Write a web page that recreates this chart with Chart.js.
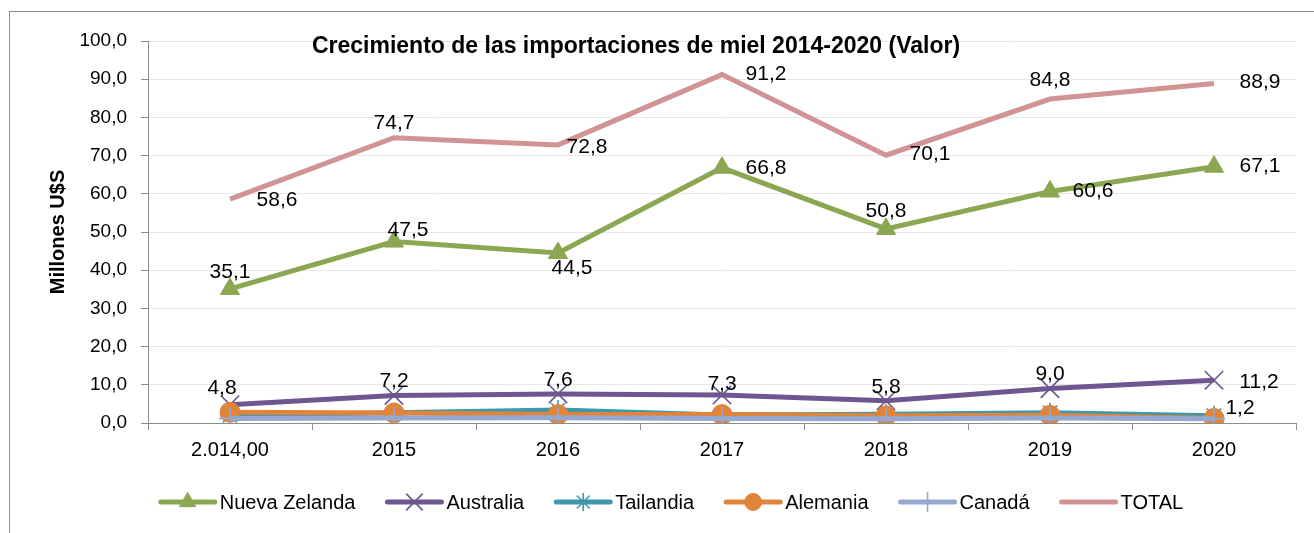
<!DOCTYPE html>
<html>
<head>
<meta charset="utf-8">
<script src="https://cdn.jsdelivr.net/npm/chart.js@4.4.0/dist/chart.umd.min.js"></script>
<style>
  html, body { margin: 0; padding: 0; background: #fff; }
  #wrap { width: 1314px; height: 533px; }
</style>
</head>
<body>
<div id="wrap"><canvas id="chart" width="1314" height="533"></canvas></div>
<script>
// --- Data ---
const years = ['2.014,00', '2015', '2016', '2017', '2018', '2019', '2020'];
const nuevaZelanda = [35.1, 47.5, 44.5, 66.8, 50.8, 60.6, 67.1];
const australia = [4.8, 7.2, 7.6, 7.3, 5.8, 9.0, 11.2];
const tailandia = [2.0, 2.7, 3.4, 2.1, 2.3, 2.7, 1.9];
const alemania = [2.8, 2.6, 2.2, 2.2, 1.9, 2.0, 1.2];
const canada = [1.2, 1.3, 1.4, 1.2, 1.1, 1.3, 1.1];
const total = [58.6, 74.7, 72.8, 91.2, 70.1, 84.8, 88.9];
const yTicks = [0, 10, 20, 30, 40, 50, 60, 70, 80, 90, 100];

const FONT = '"Liberation Sans", Arial, sans-serif';
const fmt = v => v.toFixed(1).replace('.', ',');

// label offsets (text centre relative to point), null = no label
const labelOffsets = {
    'Nueva Zelanda': [[0, -17], [14, -11], [14, 15], [44, 0], [0, -18], [43, 0], [46, 0]],
    'Australia': [[-8, -16], [0, -14], [0, -14], [0, -11], [0, -14], [0, -14], [45, 2]],
    'Alemania': [null, null, null, null, null, null, [26, -10]],
    'TOTAL': [[47, 1], [0, -14], [29, 2], [44, 0], [44, -1], [0, -19], [46, -1]]
};

function makeSeries(label, data, color, style, radius, order) {
    return {
        label: label,
        data: data,
        borderColor: color,
        backgroundColor: color,
        borderWidth: 5,
        pointStyle: style,
        pointRadius: radius,
        pointHoverRadius: radius,
        pointBackgroundColor: color,
        pointBorderColor: color,
        pointBorderWidth: (style === 'circle' || style === 'triangle') ? 1 : 1.6,
        tension: 0,
        order: order
    };
}

const datasets = [
    makeSeries('Nueva Zelanda', nuevaZelanda, '#8BA752', 'triangle', 11, 4),
    makeSeries('Australia', australia, '#6E5690', 'crossRot', 13, 3),
    makeSeries('Tailandia', tailandia, '#3E98AE', 'star', 10, 2),
    makeSeries('Alemania', alemania, '#E0843A', 'circle', 10, 1),
    makeSeries('Canadá', canada, '#93A9D2', 'cross', 11, 0),
    makeSeries('TOTAL', total, '#D19494', 'circle', 0, 5)
];

function drawMarker(ctx, ds, x, y) {
    if (!ds.pointRadius) return;
    ctx.save();
    ctx.fillStyle = ds.pointBackgroundColor;
    ctx.strokeStyle = ds.pointBorderColor;
    ctx.lineWidth = ds.pointBorderWidth;
    Chart.helpers.drawPoint(ctx, {
        pointStyle: ds.pointStyle,
        radius: ds.pointRadius * 0.85,
        rotation: 0,
        borderWidth: ds.pointBorderWidth
    }, x, y);
    ctx.restore();
}

const decor = {
    id: 'decor',
    beforeDraw(chart) {
        const ctx = chart.ctx;
        ctx.save();
        ctx.fillStyle = '#fff';
        ctx.fillRect(0, 0, chart.width, chart.height);
        ctx.strokeStyle = '#8c8c8c';
        ctx.lineWidth = 1;
        ctx.strokeRect(9.5, 11.5, 1400, 600);
        ctx.restore();
    },
    afterDatasetsDraw(chart) {
        const ctx = chart.ctx;
        ctx.save();
        ctx.font = '21px ' + FONT;
        ctx.fillStyle = '#000';
        ctx.textAlign = 'center';
        ctx.textBaseline = 'middle';
        chart.data.datasets.forEach((ds, di) => {
            const offs = labelOffsets[ds.label];
            if (!offs) return;
            const meta = chart.getDatasetMeta(di);
            meta.data.forEach((pt, i) => {
                const o = offs[i];
                if (!o) return;
                ctx.fillText(fmt(ds.data[i]), pt.x + o[0], pt.y + o[1]);
            });
        });
        ctx.restore();
    },
    afterDraw(chart) {
        const ctx = chart.ctx;
        const area = chart.chartArea;
        ctx.save();
        // title
        ctx.fillStyle = '#000';
        ctx.font = 'bold 23px ' + FONT;
        ctx.textAlign = 'center';
        ctx.textBaseline = 'middle';
        ctx.fillText('Crecimiento de las importaciones de miel 2014-2020 (Valor)', 636, 47);
        // y axis title
        ctx.save();
        ctx.translate(58, (area.top + area.bottom) / 2);
        ctx.rotate(-Math.PI / 2);
        ctx.font = 'bold 20px ' + FONT;
        ctx.fillText('Millones U$S', 0, 0);
        ctx.restore();
        // legend
        ctx.font = '20px ' + FONT;
        ctx.textAlign = 'left';
        const lineW = 58, gapText = 3, gapItem = 30, ly = 502;
        const items = chart.data.datasets.map(ds => ({ ds, w: lineW + gapText + ctx.measureText(ds.label).width }));
        const totalW = items.reduce((s, it) => s + it.w, 0) + gapItem * (items.length - 1);
        let x = 671 - totalW / 2;
        items.forEach(it => {
            const ds = it.ds;
            ctx.strokeStyle = ds.borderColor;
            ctx.lineWidth = 5;
            ctx.lineCap = 'round';
            ctx.beginPath();
            ctx.moveTo(x + 2, ly);
            ctx.lineTo(x + lineW - 2, ly);
            ctx.stroke();
            drawMarker(ctx, ds, x + lineW / 2, ly);
            ctx.fillStyle = '#000';
            ctx.fillText(ds.label, x + lineW + gapText, ly + 1);
            x += it.w + gapItem;
        });
        ctx.restore();
    }
};

new Chart(document.getElementById('chart'), {
    type: 'line',
    data: { labels: years, datasets: datasets },
    options: {
        responsive: false,
        animation: false,
        events: [],
        layout: { padding: { left: 0, right: 18, top: 41, bottom: 0 } },
        plugins: {
            legend: { display: false },
            title: { display: false },
            tooltip: { enabled: false }
        },
        scales: {
            x: {
                offset: true,
                grid: {
                    offset: true,
                    drawOnChartArea: false,
                    drawTicks: true,
                    tickLength: 7,
                    tickColor: '#8c8c8c'
                },
                border: { color: '#8c8c8c', width: 1 },
                ticks: { color: '#000', font: { family: FONT, size: 20 }, padding: 8, maxRotation: 0 },
                afterFit(scale) { scale.height = 110; }
            },
            y: {
                min: 0,
                max: 100,
                afterBuildTicks(scale) { scale.ticks = yTicks.map(v => ({ value: v })); },
                grid: {
                    color: '#e8e8e8',
                    lineWidth: 1,
                    drawTicks: true,
                    tickLength: 7,
                    tickColor: '#8c8c8c'
                },
                border: { color: '#8c8c8c', width: 1 },
                ticks: {
                    color: '#000',
                    font: { family: FONT, size: 19 },
                    padding: 14,
                    callback: v => fmt(v)
                },
                afterFit(scale) { scale.width = 148; }
            }
        }
    },
    plugins: [decor]
});
</script>
</body>
</html>
